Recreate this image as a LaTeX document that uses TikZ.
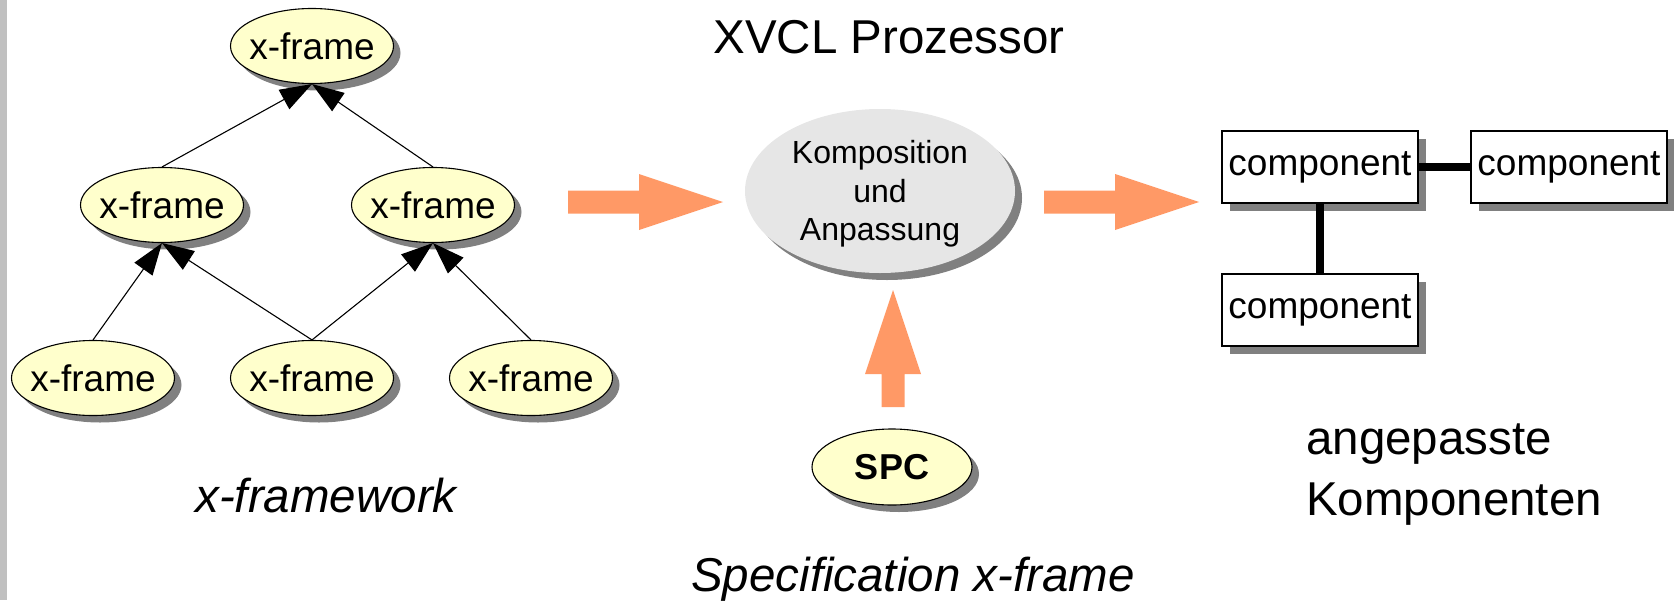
\documentclass[tikz,border=0pt]{standalone}
\usepackage{fontspec}
\setmainfont{Liberation Sans}
\usetikzlibrary{shapes.geometric,shadows,arrows.meta}
\definecolor{xfyellow}{HTML}{FFFFCC}
\definecolor{shadowgray}{HTML}{808080}
\definecolor{blockorange}{HTML}{FF9966}
\definecolor{compgray}{HTML}{E6E6E6}
\definecolor{bargray}{HTML}{C0C0C0}
\begin{document}
\begin{tikzpicture}[x=1pt,y=-1pt,
  xframe/.style={ellipse, draw=black, line width=1.1pt, fill=xfyellow,
    minimum width=163pt, minimum height=75pt, inner sep=0pt,
    font=\fontsize{37}{44}\selectfont,
    drop shadow={shadow xshift=7pt, shadow yshift=-7pt, fill=shadowgray, opacity=1}},
  spcnode/.style={xframe, minimum width=160pt, minimum height=76pt,
    font=\fontsize{36}{43}\selectfont\bfseries},
  compnode/.style={ellipse, fill=compgray, minimum width=270pt, minimum height=164pt,
    inner sep=0pt,
    drop shadow={shadow xshift=7pt, shadow yshift=-7pt, fill=shadowgray, opacity=1}},
  comptext/.style={align=center, inner sep=0pt, yshift=-3pt, font=\fontsize{32}{38.5}\selectfont},
  compbox/.style={rectangle, draw=black, line width=1.1pt, fill=white,
    minimum width=196pt, minimum height=72pt, inner sep=0pt,
    font=\fontsize{37}{44}\selectfont,
    drop shadow={shadow xshift=8pt, shadow yshift=-8pt, fill=shadowgray, opacity=1}},
  inharrow/.style={line width=1.1pt, -{Triangle[length=32pt,width=22pt]}},
  compline/.style={line width=7.5pt},
  blockarrow/.style={fill=blockorange},
  biglabel/.style={inner sep=0pt, font=\fontsize{47.5}{57}\selectfont}
]
\useasboundingbox (0,0) rectangle (1674,600);
\fill[bargray] (0,0) rectangle (7,600);

% x-framework tree
\node[xframe] (top) at (312,46) {\makebox[0pt]{x-frame}};
\node[xframe] (ml) at (162,205) {\makebox[0pt]{x-frame}};
\node[xframe] (mr) at (433,205) {\makebox[0pt]{x-frame}};
\node[xframe] (bl) at (93,378) {\makebox[0pt]{x-frame}};
\node[xframe] (bm) at (312,378) {\makebox[0pt]{x-frame}};
\node[xframe] (br) at (531,378) {\makebox[0pt]{x-frame}};

\draw[inharrow] (ml.north) -- (top.south);
\draw[inharrow] (mr.north) -- (top.south);
\draw[inharrow] (bl.north) -- (ml.south);
\draw[inharrow] (bm.north) -- (ml.south);
\draw[inharrow] (bm.north) -- (mr.south);
\draw[inharrow] (br.north) -- (mr.south);

% processor
\node[compnode, label={[comptext]center:{Komposition\\und\\Anpassung}}] (komp) at (880,191) {};
\node[spcnode] (spc) at (892,467) {\makebox[0pt]{SPC}};

% block arrows
\fill[blockarrow] (568,190.5) -- (639,190.5) -- (639,174) -- (723,202) -- (639,230) -- (639,213.5) -- (568,213.5) -- cycle;
\fill[blockarrow] (1044,190.5) -- (1115,190.5) -- (1115,174) -- (1199,202) -- (1115,230) -- (1115,213.5) -- (1044,213.5) -- cycle;
\fill[blockarrow] (881.5,407) -- (881.5,374) -- (865,374) -- (893,290) -- (921,374) -- (904.5,374) -- (904.5,407) -- cycle;

% components
\node[compbox] (c1) at (1320,167) {component};
\node[compbox] (c2) at (1569,167) {component};
\node[compbox] (c3) at (1320,310) {component};
\draw[compline] (c1.east) -- (c2.west);
\draw[compline] (c1.south) -- (c3.north);

% labels
\node[biglabel, anchor=base] (title) at (889,53) {XVCL Prozessor};
\node[biglabel, anchor=base] (fw) at (326,512) {\itshape x-framework};
\node[biglabel, anchor=base] (spec) at (913,591) {\itshape Specification x-frame};
\node[biglabel, anchor=base west] (ang) at (1306,454) {angepasste};
\node[biglabel, anchor=base west] (kom) at (1306,515) {Komponenten};
\end{tikzpicture}
\end{document}
